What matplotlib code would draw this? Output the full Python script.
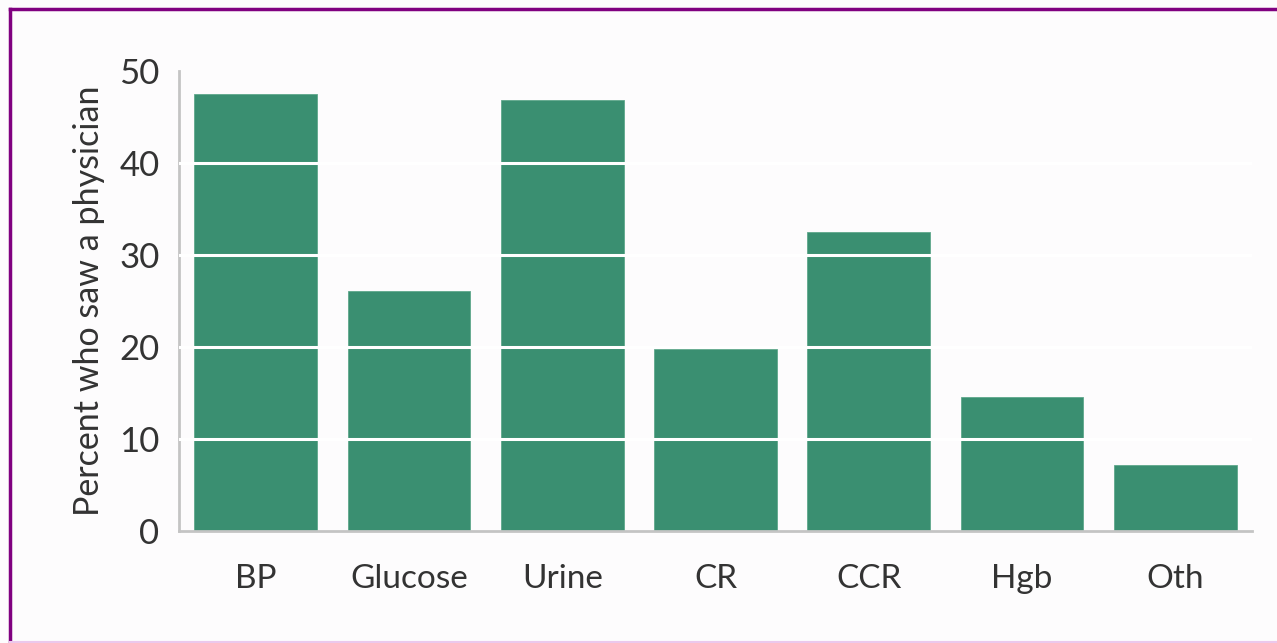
import matplotlib.pyplot as plt
from matplotlib.lines import Line2D

categories = ["BP", "Glucose", "Urine", "CR", "CCR", "Hgb", "Oth"]
percent = [47.5, 26.1, 46.9, 19.8, 32.5, 14.6, 7.2]
yticks = [0, 10, 20, 30, 40, 50]

BAR = "#3a8f71"
TXT = "#333333"
SPINE = "#c4c4c4"
BG = "#fdfcfd"

plt.rcParams["font.family"] = ["Lato", "DejaVu Sans"]

fig = plt.figure(figsize=(12.77, 6.43), dpi=100)
fig.patch.set_facecolor(BG)
ax = fig.add_axes([179 / 1277, 1 - 531 / 643, (1252 - 179) / 1277, (531 - 71) / 643])
ax.set_facecolor(BG)

x = range(len(categories))
ax.bar(x, percent, width=0.8, color=BAR, edgecolor="#5fa88c", linewidth=0.6, zorder=2)

# white lines across the bars at each tick
for t in yticks[1:-1]:
    ax.axhline(t, color="white", linewidth=2.2, zorder=3)

ax.set_xlim(-0.5, len(categories) - 0.5)
ax.set_ylim(0, 50)
ax.set_yticks(yticks)
ax.set_xticks(list(x))
ax.set_xticklabels(categories)
ax.tick_params(axis="both", length=0, colors=TXT)
ax.tick_params(axis="x", pad=24, labelsize=24)
ax.tick_params(axis="y", pad=14, labelsize=25)

for s in ["top", "right"]:
    ax.spines[s].set_visible(False)
for s in ["left", "bottom"]:
    ax.spines[s].set_color(SPINE)
    ax.spines[s].set_linewidth(2)

ax.set_ylabel("Percent who saw a physician", fontsize=24.5, color=TXT, labelpad=10)

# frame of the figure (cropped on the right)
fig.add_artist(Line2D([10 / 1277, 1], [1 - 9 / 643, 1 - 9 / 643], color="#800080", linewidth=2.5))
fig.add_artist(Line2D([10 / 1277, 10 / 1277], [0, 1 - 9 / 643], color="#800080", linewidth=2.5))
fig.add_artist(Line2D([10 / 1277, 1], [1.5 / 643, 1.5 / 643], color="#ecc8ec", linewidth=1.5))

fig.savefig("out.png", dpi=100, facecolor=fig.get_facecolor())
